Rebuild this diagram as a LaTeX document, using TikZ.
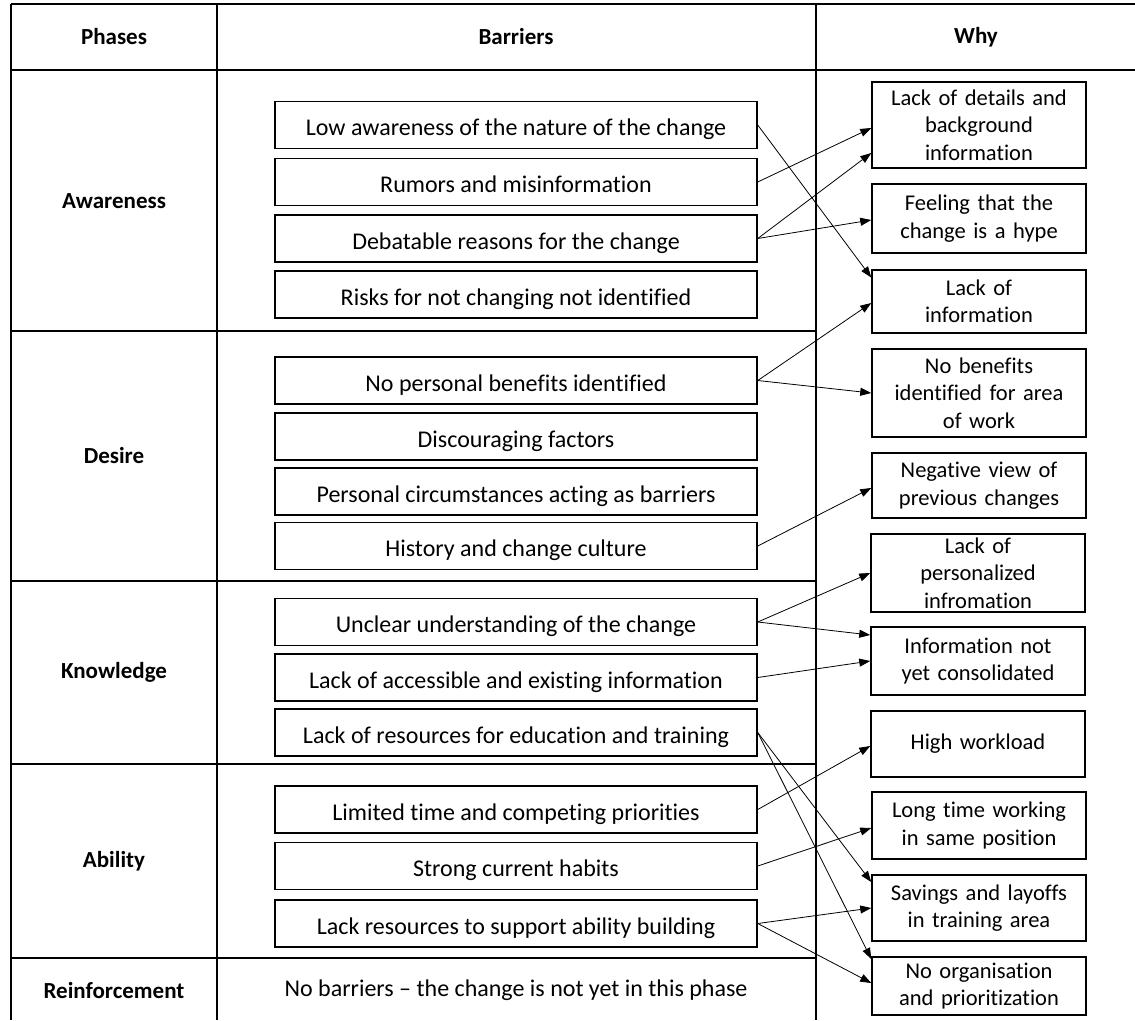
\documentclass[tikz,border=0pt]{standalone}
\usepackage{fontspec}
\setmainfont{Carlito}[Ligatures=NoCommon]
\usetikzlibrary{arrows.meta}
\begin{document}
\begin{tikzpicture}[x=1pt,y=-1pt,
  tline/.style={line width=1.8pt},
  bbox/.style={draw, line width=1.5pt, minimum width=482pt, minimum height=47pt, inner sep=0pt, text height=21pt, text depth=0pt, font=\fontsize{24}{29}\selectfont},
  wbox/.style={draw, line width=1.5pt, minimum width=214pt, inner sep=0pt, align=center, text width=212pt, font=\fontsize{22.5}{27.5}\selectfont},
  head/.style={font=\fontsize{23}{27}\selectfont\bfseries},
  conn/.style={line width=0.8pt, -{Triangle[length=11pt,width=8pt]}}
]
\useasboundingbox (0,0) rectangle (1135,1020);
\fill[white] (0,0) rectangle (1135,1020);

% table grid
\draw[tline] (11,4) -- (1135,4);
\draw[tline] (11,70) -- (1135,70);
\draw[tline] (11,4) -- (11,1020);
\draw[tline] (217,4) -- (217,1020);
\draw[tline] (816,4) -- (816,1020);
\draw[tline] (11,331) -- (816,331);
\draw[tline] (11,581) -- (816,581);
\draw[tline] (11,764) -- (816,764);
\draw[tline] (11,958) -- (816,958);

% headers
\node[head] (hP) at (114,37) {Phases};
\node[head] (hB) at (516,37) {Barriers};
\node[head] (hW) at (976,37) {Why};

\node[head] (pA) at (114,201) {Awareness};
\node[head] (pD) at (114,456) {Desire};
\node[head] (pK) at (114,672) {Knowledge};
\node[head] (pB) at (114,861) {Ability};
\node[head] (pR) at (114,991) {Reinforcement};

% barriers
\node[bbox] (A1) at (516,125) {Low awareness of the nature of the change};
\node[bbox] (A2) at (516,182) {Rumors and misinformation};
\node[bbox] (A3) at (516,238.5) {Debatable reasons for the change};
\node[bbox] (A4) at (516,294.5) {Risks for not changing not identified};
\node[bbox] (D1) at (516,380.5) {No personal benefits identified};
\node[bbox] (D2) at (516,436.5) {Discouraging factors};
\node[bbox] (D3) at (516,491.5) {Personal circumstances acting as barriers};
\node[bbox] (D4) at (516,546) {History and change culture};
\node[bbox] (K1) at (516,622) {Unclear understanding of the change};
\node[bbox] (K2) at (516,677.5) {Lack of accessible and existing information};
\node[bbox] (K3) at (516,732.5) {Lack of resources for education and training};
\node[bbox] (B1) at (516,809.5) {Limited time and competing priorities};
\node[bbox] (B2) at (516,866) {Strong current habits};
\node[bbox] (B3) at (516,923.5) {Lack resources to support ability building};
\node[font=\fontsize{24}{29}\selectfont] (R1) at (516,990) {No barriers – the change is not yet in this phase};

% why
\node[wbox, minimum height=86pt] (W1) at (979,125) {Lack of details and\\background\\information};
\node[wbox, minimum height=69pt] (W2) at (979,218.5) {Feeling that the\\change is a hype};
\node[wbox, minimum height=63pt] (W3) at (979,301.5) {Lack of\\information};
\node[wbox, minimum height=88pt] (W4) at (979,393) {No benefits\\identified for area\\of work};
\node[wbox, minimum height=65pt] (W5) at (979,485.5) {Negative view of\\previous changes};
\node[wbox, minimum height=78pt] (W6) at (978,573) {Lack of\\personalized\\infromation};
\node[wbox, minimum height=68pt] (W7) at (978,661) {Information not\\yet consolidated};
\node[wbox, minimum height=66pt] (W8) at (978,744) {High workload};
\node[wbox, minimum height=67pt] (W9) at (979,825.5) {Long time working\\in same position};
\node[wbox, minimum height=66pt] (W10) at (979,908) {Savings and layoffs\\in training area};
\node[wbox, minimum height=58pt] (W11) at (979,986) {No organisation\\and prioritization};

% connectors
\draw[conn] (A1.east) -- ([yshift=24pt]W3.west);
\draw[conn] (A2.east) -- ([yshift=-3pt]W1.west);
\draw[conn] (A3.east) -- ([yshift=-28pt]W1.west);
\draw[conn] (A3.east) -- ([yshift=-1.5pt]W2.west);
\draw[conn] (D1.east) -- ([yshift=-1.5pt]W3.west);
\draw[conn] (D1.east) -- (W4.west);
\draw[conn] (D4.east) -- ([yshift=-2.5pt]W5.west);
\draw[conn] (K1.east) -- (W6.west);
\draw[conn] (K1.east) -- ([yshift=26pt]W7.west);
\draw[conn] (K2.east) -- (W7.west);
\draw[conn] (B1.east) -- ([yshift=-2pt]W8.west);
\draw[conn] (B2.east) -- ([yshift=-2.5pt]W9.west);
\draw[conn] (K3.east) -- ([yshift=26pt]W10.west);
\draw[conn] (B3.east) -- (W10.west);
\draw[conn] (K3.east) -- ([yshift=27pt]W11.west);
\draw[conn] (B3.east) -- ([yshift=3pt]W11.west);
\end{tikzpicture}
\end{document}
